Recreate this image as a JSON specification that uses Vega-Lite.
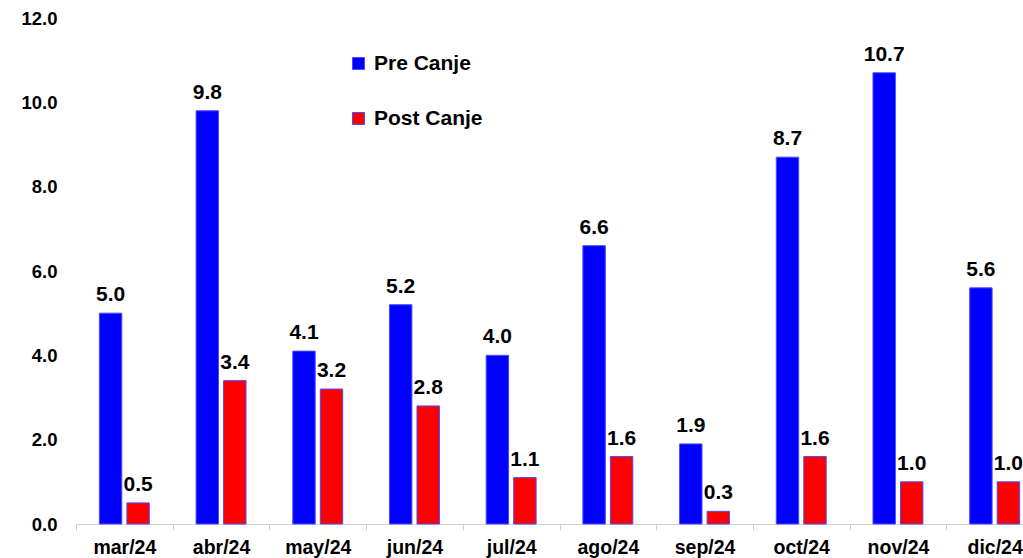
{
  "$schema": "https://vega.github.io/schema/vega-lite/v6.json",
  "autosize": {"type": "none"},
  "padding": {"left": 76, "top": 18, "right": 0, "bottom": 34},
  "width": 947,
  "height": 506,
  "background": "white",
  "config": {
    "font": "Liberation Sans",
    "view": {"stroke": null}
  },
  "data": {
    "values": [
      {"mes": "mar/24", "serie": "Pre Canje", "valor": 5.0},
      {"mes": "mar/24", "serie": "Post Canje", "valor": 0.5},
      {"mes": "abr/24", "serie": "Pre Canje", "valor": 9.8},
      {"mes": "abr/24", "serie": "Post Canje", "valor": 3.4},
      {"mes": "may/24", "serie": "Pre Canje", "valor": 4.1},
      {"mes": "may/24", "serie": "Post Canje", "valor": 3.2},
      {"mes": "jun/24", "serie": "Pre Canje", "valor": 5.2},
      {"mes": "jun/24", "serie": "Post Canje", "valor": 2.8},
      {"mes": "jul/24", "serie": "Pre Canje", "valor": 4.0},
      {"mes": "jul/24", "serie": "Post Canje", "valor": 1.1},
      {"mes": "ago/24", "serie": "Pre Canje", "valor": 6.6},
      {"mes": "ago/24", "serie": "Post Canje", "valor": 1.6},
      {"mes": "sep/24", "serie": "Pre Canje", "valor": 1.9},
      {"mes": "sep/24", "serie": "Post Canje", "valor": 0.3},
      {"mes": "oct/24", "serie": "Pre Canje", "valor": 8.7},
      {"mes": "oct/24", "serie": "Post Canje", "valor": 1.6},
      {"mes": "nov/24", "serie": "Pre Canje", "valor": 10.7},
      {"mes": "nov/24", "serie": "Post Canje", "valor": 1.0},
      {"mes": "dic/24", "serie": "Pre Canje", "valor": 5.6},
      {"mes": "dic/24", "serie": "Post Canje", "valor": 1.0}
    ]
  },
  "encoding": {
    "x": {
      "field": "mes", "type": "nominal", "sort": null, "title": null,
      "scale": {"range": [0, 967], "paddingInner": 0, "paddingOuter": 0},
      "axis": {
        "labelAngle": 0, "labelFont": "Liberation Sans", "labelFontSize": 19.5, "labelFontWeight": "bold",
        "labelColor": "black", "domainColor": "#d0d0d0", "tickColor": "#d0d0d0", "tickSize": 6,
        "tickBand": "extent", "labelPadding": 8
      }
    },
    "xOffset": {
      "field": "serie", "type": "nominal", "sort": ["Pre Canje", "Post Canje"],
      "scale": {"paddingInner": 0.185, "paddingOuter": 0.85}
    },
    "y": {
      "field": "valor", "type": "quantitative", "title": null,
      "scale": {"domain": [0, 12], "nice": false},
      "axis": {
        "values": [0, 2, 4, 6, 8, 10, 12], "format": ".1f", "grid": false, "domain": false, "ticks": false,
        "labelFont": "Liberation Sans", "labelFontSize": 18.5, "labelFontWeight": "bold", "labelColor": "black",
        "labelPadding": 19
      }
    }
  },
  "layer": [
    {
      "mark": {"type": "bar", "stroke": "#4b4bff", "strokeWidth": 1},
      "encoding": {
        "color": {
          "field": "serie", "type": "nominal", "sort": ["Pre Canje", "Post Canje"],
          "scale": {"domain": ["Pre Canje", "Post Canje"], "range": ["#0000ff", "#ff0000"]},
          "legend": {
            "title": null, "orient": "none", "legendX": 272, "legendY": 35,
            "symbolType": "square", "symbolSize": 144, "symbolStrokeWidth": 1,
            "labelFont": "Liberation Sans", "labelFontSize": 21, "labelFontWeight": "bold", "labelColor": "black",
            "labelOffset": 5, "rowPadding": 33
          }
        }
      }
    },
    {
      "mark": {"type": "text", "baseline": "bottom", "dy": -8, "fontSize": 21, "fontWeight": "bold", "color": "black", "font": "Liberation Sans"},
      "encoding": {
        "text": {"field": "valor", "type": "quantitative", "format": ".1f"}
      }
    }
  ]
}
